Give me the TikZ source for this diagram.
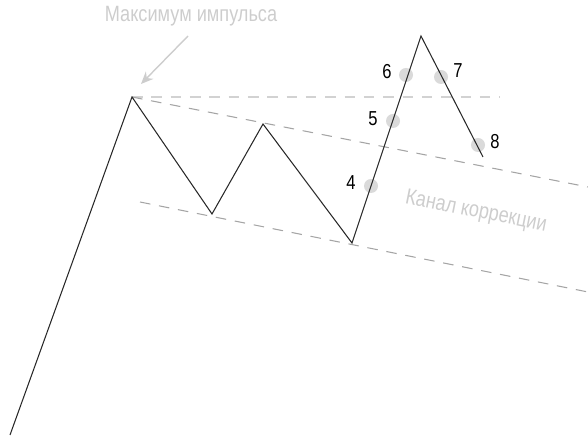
\documentclass[tikz,border=0pt]{standalone}
\usepackage{fontspec}
\setmainfont{Liberation Sans}[FakeStretch=0.82]
\usepackage{tikz}
\usetikzlibrary{positioning,arrows.meta}
\definecolor{wavegray}{RGB}{40,40,40}
\definecolor{dashgray}{RGB}{165,165,165}
\definecolor{lightdash}{RGB}{210,210,210}
\definecolor{dotgray}{RGB}{218,218,218}
\definecolor{notegray}{RGB}{205,205,205}

\begin{document}
\begin{tikzpicture}[x=0.02cm,y=-0.02cm,
  every node/.style={inner sep=0pt},
  dot/.style={circle,fill=dotgray,minimum size=14*0.02cm},
  num/.style={font=\fontsize{11.5}{13}\selectfont,text=black},
  note/.style={font=\fontsize{12.6}{15}\selectfont,text=notegray}]
\useasboundingbox (0,0) rectangle (588,448);
\coordinate (s) at (10,435);
\coordinate (p1) at (132,97);
\coordinate (t1) at (212,214);
\coordinate (p2) at (263,124);
\coordinate (t2) at (352,243);
\coordinate (p3) at (421,36);
\coordinate (e) at (483,157);
\coordinate (h) at (500,97);
\coordinate (u) at (588,187);
\coordinate (l0) at (140,202);
\coordinate (l1) at (588,292);
\draw[lightdash,line width=0.6pt,dash pattern=on 6pt off 5pt] (p1)--(h);
\draw[dashgray,line width=0.6pt,dash pattern=on 6pt off 5pt] (p1)--(u);
\draw[dashgray,line width=0.6pt,dash pattern=on 6pt off 5pt] (l0)--(l1);
\node[dot] (d4) at (371,186) {};
\node[dot] (d5) at (393,121) {};
\node[dot] (d6) at (406,75) {};
\node[dot] (d7) at (441,77) {};
\node[dot] (d8) at (478,145) {};
\draw[wavegray,line width=0.6pt] (s)--(p1)--(t1)--(p2)--(t2)--(p3)--(e);
\node[num] (n4) at (351,183) {4};
\node[num] (n5) at (373,119) {5};
\node[num] (n6) at (387,72) {6};
\node[num] (n7) at (458,71) {7};
\node[num] (n8) at (495,142) {8};
\node[note] (max) at (191,16) {Максимум импульса};
\coordinate (a0) at (188,36);
\coordinate (a1) at (141,84);
\draw[notegray,line width=0.8pt,-{Stealth[length=7pt,width=6pt]}] (a0)--(a1);
\node[note,rotate=-11.3] (chan) at (476,212) {Канал коррекции};
\end{tikzpicture}
\end{document}
